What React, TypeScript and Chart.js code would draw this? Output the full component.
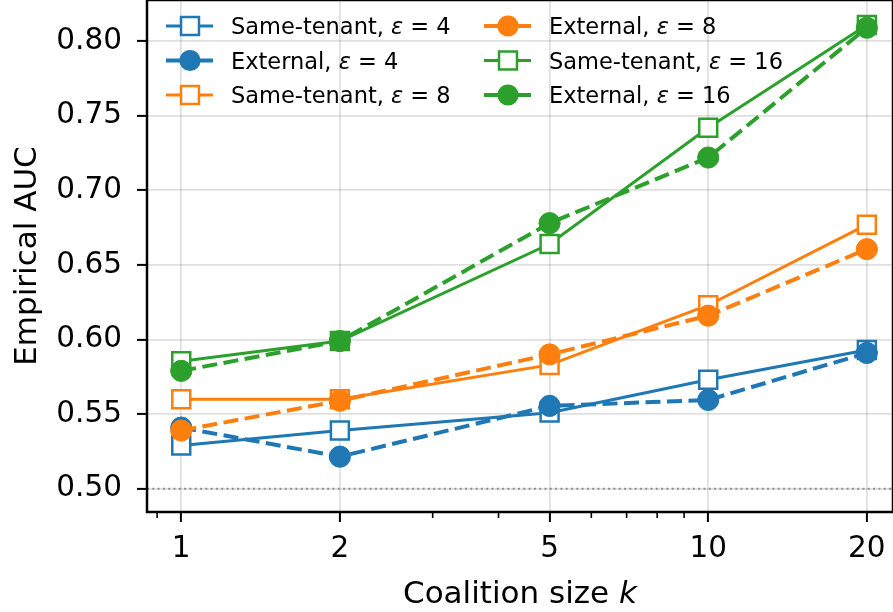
import React, { useEffect, useRef } from "react";
import { Chart, registerables } from "chart.js";

Chart.register(...registerables);

// ---- data ----
const kValues = [1, 2, 5, 10, 20];
const sameTenantEps4 = [0.529, 0.539, 0.551, 0.573, 0.593];
const externalEps4 = [0.541, 0.5215, 0.5555, 0.5595, 0.591];
const sameTenantEps8 = [0.56, 0.56, 0.583, 0.623, 0.677];
const externalEps8 = [0.539, 0.559, 0.59, 0.616, 0.6606];
const sameTenantEps16 = [0.5855, 0.599, 0.664, 0.742, 0.8108];
const externalEps16 = [0.579, 0.599, 0.678, 0.722, 0.809];

const xTickValues = [1, 2, 5, 10, 20];
const xMinorTickValues = [0.9, 3, 4, 6, 7, 8, 9];
const yTickValues = [0.5, 0.55, 0.6, 0.65, 0.7, 0.75, 0.8];
const baselineAUC = 0.5;

const xAxisTitle = "Coalition size ";
const xAxisTitleVar = "k";
const yAxisTitle = "Empirical AUC";

const BLUE = "#1f77b4";
const ORANGE = "#ff7f0e";
const GREEN = "#2ca02c";

type Series = { name: string; eps: string; kind: "same" | "external"; color: string; values: number[] };

const series: Series[] = [
  { name: "Same-tenant, ", eps: "4", kind: "same", color: BLUE, values: sameTenantEps4 },
  { name: "External, ", eps: "4", kind: "external", color: BLUE, values: externalEps4 },
  { name: "Same-tenant, ", eps: "8", kind: "same", color: ORANGE, values: sameTenantEps8 },
  { name: "External, ", eps: "8", kind: "external", color: ORANGE, values: externalEps8 },
  { name: "Same-tenant, ", eps: "16", kind: "same", color: GREEN, values: sameTenantEps16 },
  { name: "External, ", eps: "16", kind: "external", color: GREEN, values: externalEps16 },
];

const FONT = "'DejaVu Sans', 'Liberation Sans', sans-serif";
const SQUARE_R = 12.7;
const CIRCLE_R = 10.6;
const SOLID_W = 3;
const DASH_W = 4;
const DASH = [15, 6.5];
const GRID = "rgba(0,0,0,0.12)";

const decorPlugin = {
  id: "decor",
  beforeDatasetsDraw(chart: any) {
    const { ctx, chartArea } = chart;
    const y = chart.scales.y.getPixelForValue(baselineAUC);
    ctx.save();
    ctx.strokeStyle = "#8c8c8c";
    ctx.lineWidth = 2;
    ctx.setLineDash([2, 3.3]);
    ctx.beginPath();
    ctx.moveTo(chartArea.left, y);
    ctx.lineTo(chartArea.right, y);
    ctx.stroke();
    ctx.restore();
  },
  afterDraw(chart: any) {
    const { ctx, chartArea } = chart;
    const xs = chart.scales.x;
    ctx.save();
    // minor ticks
    ctx.strokeStyle = "#000";
    ctx.lineWidth = 1.6;
    for (const v of xMinorTickValues) {
      const px = xs.getPixelForValue(v);
      if (px < chartArea.left || px > chartArea.right) continue;
      ctx.beginPath();
      ctx.moveTo(px, chartArea.bottom);
      ctx.lineTo(px, chartArea.bottom + 6);
      ctx.stroke();
    }
    // spines
    ctx.lineWidth = 2.5;
    ctx.strokeRect(chartArea.left, chartArea.top, chartArea.right - chartArea.left, chartArea.bottom - chartArea.top);

    // axis titles
    ctx.fillStyle = "#000";
    ctx.textBaseline = "alphabetic";
    const cx = (chartArea.left + chartArea.right) / 2;
    ctx.font = `31px ${FONT}`;
    const w1 = ctx.measureText(xAxisTitle).width;
    ctx.font = `italic 31px ${FONT}`;
    const w2 = ctx.measureText(xAxisTitleVar).width;
    const sx = cx - (w1 + w2) / 2;
    const by = chart.height - 9;
    ctx.font = `31px ${FONT}`;
    ctx.textAlign = "left";
    ctx.fillText(xAxisTitle, sx, by);
    ctx.font = `italic 31px ${FONT}`;
    ctx.fillText(xAxisTitleVar, sx + w1, by);

    ctx.save();
    ctx.translate(36, (chartArea.top + chartArea.bottom) / 2);
    ctx.rotate(-Math.PI / 2);
    ctx.font = `31px ${FONT}`;
    ctx.textAlign = "center";
    ctx.fillText(yAxisTitle, 0, 0);
    ctx.restore();

    // legend
    const fs = 22.5;
    series.forEach((s, i) => {
      const col = Math.floor(i / 3);
      const row = i % 3;
      const mx = chartArea.left + (col === 0 ? 43 : 361);
      const base = chartArea.top + 34 + row * 34.5;
      const my = base - 8;
      ctx.strokeStyle = s.color;
      ctx.lineWidth = s.kind === "same" ? SOLID_W : DASH_W;
      ctx.setLineDash([]);
      ctx.beginPath();
      ctx.moveTo(mx - 24, my);
      ctx.lineTo(mx + 23, my);
      ctx.stroke();
      if (s.kind === "same") {
        const h = SQUARE_R * Math.SQRT1_2;
        ctx.fillStyle = "#fff";
        ctx.fillRect(mx - h, my - h, 2 * h, 2 * h);
        ctx.lineWidth = 2.5;
        ctx.strokeRect(mx - h, my - h, 2 * h, 2 * h);
      } else {
        ctx.fillStyle = s.color;
        ctx.beginPath();
        ctx.arc(mx, my, CIRCLE_R, 0, Math.PI * 2);
        ctx.fill();
      }
      ctx.fillStyle = "#000";
      ctx.textAlign = "left";
      let tx = mx + 41;
      ctx.font = `${fs}px ${FONT}`;
      ctx.fillText(s.name, tx, base);
      tx += ctx.measureText(s.name).width;
      ctx.font = `italic ${fs}px ${FONT}`;
      ctx.fillText("\u03b5", tx, base);
      tx += ctx.measureText("\u03b5").width;
      ctx.font = `${fs}px ${FONT}`;
      ctx.fillText(" = " + s.eps, tx, base);
    });
    ctx.restore();
  },
};

export default function App() {
  const ref = useRef<HTMLCanvasElement>(null);
  useEffect(() => {
    const datasets = series.map((s, i) => ({
      label: s.name + "\u03b5 = " + s.eps,
      data: kValues.map((k, j) => ({ x: k, y: s.values[j] })),
      borderColor: s.color,
      backgroundColor: s.kind === "same" ? "#ffffff" : s.color,
      borderWidth: s.kind === "same" ? SOLID_W : DASH_W,
      borderDash: s.kind === "same" ? [] : DASH,
      pointStyle: s.kind === "same" ? "rect" : "circle",
      pointRadius: s.kind === "same" ? SQUARE_R : CIRCLE_R,
      pointBorderWidth: s.kind === "same" ? 2.5 : 1,
      pointBorderColor: s.color,
      pointBackgroundColor: s.kind === "same" ? "#ffffff" : s.color,
      tension: 0,
      order: series.length - i,
    }));
    const chart = new Chart(ref.current!, {
      type: "line",
      data: { datasets },
      options: {
        animation: false,
        responsive: false,
        devicePixelRatio: 1,
        layout: { padding: 0, autoPadding: false } as any,
        plugins: { legend: { display: false }, tooltip: { enabled: false } },
        scales: {
          x: {
            type: "logarithmic",
            min: 0.861,
            max: 22.42,
            afterBuildTicks: (scale: any) => {
              scale.ticks = xTickValues.map((v) => ({ value: v }));
            },
            afterFit: (scale: any) => {
              scale.height = 100;
              scale.paddingLeft = 0;
              scale.paddingRight = 0;
            },
            ticks: {
              autoSkip: false,
              maxRotation: 0,
              padding: 10,
              color: "#000",
              font: { family: FONT, size: 29.5 },
              callback: (v: any) => String(v),
            },
            grid: {
              color: GRID,
              lineWidth: 1.8,
              tickColor: "#000",
              tickWidth: 2,
              tickLength: 10,
            },
            border: { display: false },
          },
          y: {
            type: "linear",
            min: 0.4844,
            max: 0.8276,
            afterBuildTicks: (scale: any) => {
              scale.ticks = yTickValues.map((v) => ({ value: v }));
            },
            afterFit: (scale: any) => {
              scale.width = 147;
              scale.paddingTop = 0;
              scale.paddingBottom = 0;
            },
            ticks: {
              padding: 15,
              color: "#000",
              font: { family: FONT, size: 29.5 },
              callback: (v: any) => Number(v).toFixed(2),
            },
            grid: {
              color: GRID,
              lineWidth: 1.8,
              tickColor: "#000",
              tickWidth: 2,
              tickLength: 10,
            },
            border: { display: false },
          },
        },
      },
      plugins: [decorPlugin],
    } as any);
    return () => chart.destroy();
  }, []);
  return (
    <div style={{ position: "fixed", left: 0, top: 0, width: 893, height: 612, background: "#fff" }}>
      <canvas ref={ref} width={893} height={612} style={{ width: 893, height: 612, display: "block" }} />
    </div>
  );
}
